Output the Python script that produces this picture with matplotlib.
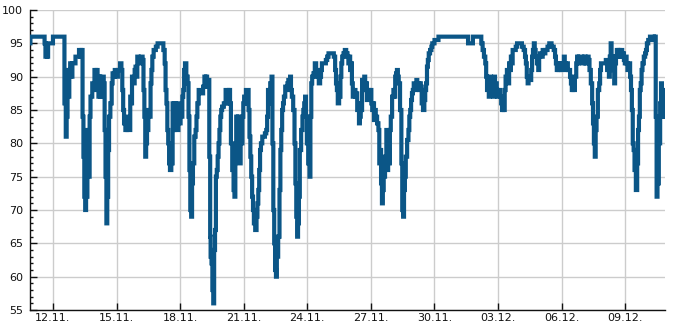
import matplotlib
matplotlib.use('Agg')
import matplotlib.pyplot as plt
from matplotlib.ticker import MultipleLocator
import pandas as pd

# ---- data -------------------------------------------------------------
start_time = '2023-11-10 22:00'
hours = [0, 1, 16, 17, 18, 19, 20, 21, 25, 27, 38, 40, 41, 42, 43, 44, 45, 46, 47, 49,
         51, 52, 54, 57, 58, 59, 60, 61, 62, 63, 64, 66, 67, 68, 69, 70, 71, 72, 74, 75,
         76, 77, 78, 79, 80, 81, 83, 84, 85, 86, 87, 88, 89, 90, 92, 93, 94, 95, 97, 98,
         101, 103, 104, 105, 106, 107, 109, 110, 111, 113, 114, 115, 116, 118, 119, 120, 121, 122, 124, 127,
         128, 129, 130, 131, 132, 133, 135, 136, 137, 138, 139, 141, 144, 145, 150, 152, 153, 154, 155, 156,
         157, 158, 159, 161, 162, 163, 164, 165, 166, 167, 169, 170, 171, 172, 173, 174, 175, 176, 178, 179,
         180, 181, 182, 183, 184, 185, 187, 188, 189, 190, 192, 195, 197, 198, 199, 200, 201, 202, 204, 204,
         205, 206, 207, 208, 209, 210, 211, 212, 213, 214, 215, 216, 217, 218, 221, 222, 224, 225, 226, 227,
         228, 230, 231, 232, 233, 234, 235, 236, 238, 239, 240, 241, 242, 243, 244, 245, 247, 248, 249, 250,
         251, 252, 253, 254, 256, 257, 258, 259, 260, 261, 262, 264, 265, 267, 268, 269, 270, 271, 273, 274,
         275, 276, 277, 278, 279, 280, 282, 283, 284, 285, 286, 287, 288, 290, 291, 292, 293, 294, 295, 296,
         297, 299, 300, 301, 302, 303, 304, 305, 306, 308, 309, 310, 311, 312, 313, 314, 316, 317, 318, 319,
         320, 322, 323, 325, 326, 328, 329, 330, 331, 334, 336, 337, 339, 343, 345, 346, 347, 348, 349, 351,
         352, 353, 354, 356, 357, 359, 360, 361, 362, 363, 364, 365, 366, 368, 369, 370, 371, 372, 373, 374,
         375, 377, 378, 379, 380, 381, 382, 383, 385, 386, 387, 388, 389, 390, 391, 392, 394, 395, 396, 397,
         398, 399, 400, 401, 403, 404, 405, 406, 407, 408, 409, 411, 412, 413, 414, 415, 416, 417, 418, 420,
         421, 422, 423, 424, 425, 426, 428, 429, 430, 431, 432, 433, 434, 435, 437, 438, 439, 440, 441, 442,
         443, 444, 446, 447, 448, 449, 450, 451, 452, 454, 455, 456, 460, 465, 495, 497, 501, 502, 510, 512,
         513, 515, 516, 517, 518, 519, 520, 521, 523, 524, 525, 526, 527, 528, 529, 530, 532, 533, 534, 535,
         536, 537, 538, 539, 541, 542, 543, 544, 545, 546, 547, 549, 551, 552, 556, 558, 560, 561, 562, 563,
         564, 565, 567, 568, 569, 570, 571, 572, 573, 575, 576, 577, 578, 580, 581, 582, 585, 587, 589, 592,
         594, 595, 596, 597, 598, 599, 601, 602, 603, 604, 605, 606, 607, 608, 610, 611, 612, 613, 614, 615,
         616, 618, 619, 620, 621, 622, 624, 627, 628, 630, 631, 632, 633, 634, 636, 637, 638, 639, 640, 641,
         642, 644, 645, 646, 647, 649, 651, 653, 654, 655, 656, 657, 658, 659, 661, 662, 663, 664, 665, 666,
         667, 668, 670, 671, 672, 673, 674, 675, 676, 677, 679, 680, 681, 682, 683, 684, 685, 687, 688, 689,
         690, 691, 692, 693, 694, 696, 697, 698, 699, 701, 703, 706, 707, 708, 709, 710, 711, 713, 714, 715,
         716, 717, 718, 719]
humidity = [95, 96, 96, 95, 93, 94, 93, 95, 95, 96, 96, 86, 81, 84, 91, 87, 90, 92, 90, 92,
            92, 93, 93, 94, 93, 94, 84, 78, 72, 70, 72, 82, 75, 84, 87, 87, 89, 88, 91, 90,
            91, 90, 87, 90, 87, 88, 90, 89, 82, 75, 68, 72, 79, 84, 86, 89, 90.5, 90, 91, 90,
            91, 92, 91, 88, 85, 83, 82, 84, 82, 82, 87, 86, 90, 89, 91, 91.5, 90, 93, 92, 93,
            92.5, 88, 84, 78, 80, 82, 85, 84, 89, 91, 93, 94, 94.5, 95, 95, 94, 92, 88, 86, 82,
            80, 77, 76, 77, 86, 82, 86, 83, 85, 82, 86, 83, 85, 84, 87, 88, 91, 92, 90, 89,
            84, 76, 70, 69, 74, 77, 81, 82, 84, 86, 88, 87.5, 88.5, 90, 88.5, 90, 88.5, 89.5, 78, 66,
            63, 62, 58, 56, 64, 67, 75, 76, 78, 80, 82, 84, 85, 85.5, 86, 88, 88, 86, 88, 86,
            80, 76, 73, 72, 78, 84, 82, 84, 77, 82, 80, 84, 86, 87, 86, 88, 88, 85, 81, 78,
            75, 72, 70, 68, 67, 69, 71, 73, 76, 79, 80, 81, 81, 81.5, 82, 84, 88, 86, 89, 90,
            80, 70, 65, 61, 60, 63, 66, 73, 79, 82, 85, 86, 87, 88.5, 88, 89, 89.5, 89, 90, 88,
            87, 85, 80, 74, 69, 66, 68, 72, 79, 82, 84, 85, 86, 87, 84, 80, 77, 75, 84, 89,
            90, 90.5, 92, 91, 90, 89, 90, 91, 92, 92, 92.5, 93, 93.5, 93.5, 93, 91, 89, 88, 86, 87,
            90, 92, 93, 93.5, 94, 93.5, 93, 92, 93, 91, 92, 89, 87, 88, 87, 87.5, 85, 86, 83, 84,
            85, 89.5, 88, 90, 88, 89, 86.5, 88, 87, 88, 86, 85, 86, 83.5, 85, 84, 83, 82, 77, 79,
            74, 71, 73, 75, 78, 82, 76, 79, 77, 82, 84, 87, 88, 87, 90, 90.5, 91, 90, 89, 85,
            77, 70, 69, 73, 75, 78, 80.5, 82, 84, 85, 86.5, 87.5, 88, 89, 88, 89.5, 88.5, 89, 88, 89,
            88.5, 86, 85, 86.5, 88, 89, 91.5, 92.5, 93.5, 94, 94.5, 95, 95.5, 96, 96, 95, 95, 96, 96, 95,
            94, 93, 92, 90, 88, 89, 87, 90, 88, 89, 87, 90, 88, 89, 88, 87, 88, 87, 86, 85,
            86, 85, 88, 90, 91, 89, 92, 91, 93, 92, 94, 94, 94.5, 95, 95, 94.5, 94, 93, 92, 90,
            89, 90, 89.5, 91, 93, 94, 95, 94, 93, 92, 91, 93, 93.5, 93, 94, 93.5, 94, 94.5, 95, 94.5,
            94, 93, 92, 91, 92, 91, 92, 91, 92, 91.5, 93, 92, 91, 92, 91, 91, 90, 89, 88, 89,
            88, 90, 92, 93, 92, 93, 93, 92, 93, 92, 92, 93, 92.5, 91, 89, 86, 83, 80, 78, 82,
            84, 88, 89, 91, 92, 92, 92, 92.5, 91, 91.5, 90, 93, 95, 93, 91, 89, 92, 93, 94, 93,
            94, 93, 94, 93, 93.5, 92.5, 92, 93, 92, 91, 92, 90, 88, 85, 80, 79, 76, 73, 77, 82,
            84, 88, 89, 91, 92, 93, 93.5, 94, 95, 95.5, 96, 96, 95.5, 96, 84, 72, 74, 80, 86, 89,
            87, 84, 88, 84]

tick_dates = ['2023-11-12', '2023-11-15', '2023-11-18', '2023-11-21', '2023-11-24',
              '2023-11-27', '2023-11-30', '2023-12-03', '2023-12-06', '2023-12-09']
tick_labels = ['12.11.', '15.11.', '18.11.', '21.11.', '24.11.',
               '27.11.', '30.11.', '03.12.', '06.12.', '09.12.']
y_min, y_max, y_step = 55, 100, 5

# ---- plot -------------------------------------------------------------
times = pd.Timestamp(start_time) + pd.to_timedelta(hours, unit='h')

fig = plt.figure(figsize=(6.85, 3.3), dpi=100)
ax = fig.add_axes([30 / 685, 20 / 330, 635 / 685, 300 / 330])

ax.plot(times, humidity, color='#0b5687', lw=3.0, drawstyle='steps-mid',
        solid_joinstyle='miter', solid_capstyle='butt', zorder=3)

ax.set_xlim(times[0], times[-1])
ax.set_ylim(y_min, y_max)
ax.yaxis.set_major_locator(MultipleLocator(y_step))
ax.yaxis.set_minor_locator(MultipleLocator(1))
ax.set_xticks(pd.to_datetime(tick_dates))
ax.set_xticklabels(tick_labels)

ax.grid(True, which='major', color='#cccccc', lw=1.0, zorder=0)
for s in ['top', 'right']:
    ax.spines[s].set_visible(False)
for s in ['left', 'bottom']:
    ax.spines[s].set_linewidth(1.0)
    ax.spines[s].set_color('#111111')

ax.tick_params(axis='y', which='major', direction='in', length=5, width=1,
               labelsize=8, pad=5, colors='#111111')
ax.tick_params(axis='y', which='minor', direction='in', length=2.5, width=1,
               colors='#111111')
ax.tick_params(axis='x', which='major', direction='in', length=5, width=1,
               labelsize=8, pad=2.5, colors='#111111')

fig.savefig('out.png', dpi=100)
